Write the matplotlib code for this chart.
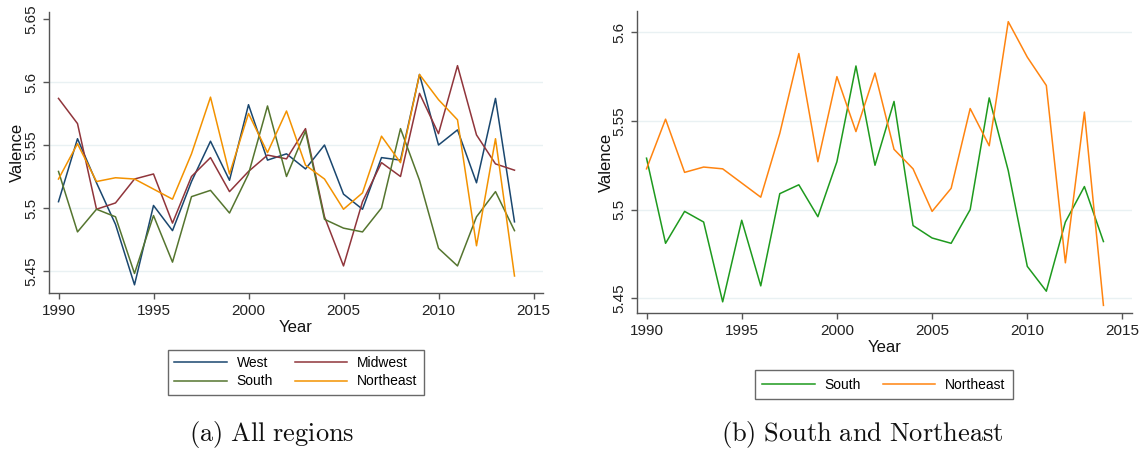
import matplotlib
matplotlib.use("Agg")
import matplotlib.pyplot as plt
import numpy as np

# Annual mean valence by census region
years = list(range(1990, 2015))
west = [5.505, 5.555, 5.520, 5.487, 5.439, 5.502, 5.482, 5.521, 5.553, 5.522,
        5.582, 5.538, 5.543, 5.531, 5.550, 5.511, 5.499, 5.540, 5.538, 5.606,
        5.550, 5.562, 5.520, 5.587, 5.489]
midwest = [5.587, 5.567, 5.499, 5.504, 5.523, 5.527, 5.488, 5.525, 5.540, 5.513,
           5.529, 5.542, 5.539, 5.563, 5.493, 5.454, 5.505, 5.536, 5.525, 5.591,
           5.559, 5.613, 5.558, 5.535, 5.530]
south = [5.529, 5.481, 5.499, 5.493, 5.448, 5.494, 5.457, 5.509, 5.514, 5.496,
         5.527, 5.581, 5.525, 5.561, 5.491, 5.484, 5.481, 5.500, 5.563, 5.522,
         5.468, 5.454, 5.493, 5.513, 5.482]
northeast = [5.523, 5.551, 5.521, 5.524, 5.523, 5.515, 5.507, 5.543, 5.588, 5.527,
             5.575, 5.544, 5.577, 5.534, 5.523, 5.499, 5.512, 5.557, 5.536, 5.606,
             5.586, 5.570, 5.470, 5.555, 5.446]

x_ticks = [1990, 1995, 2000, 2005, 2010, 2015]
y_ticks_a = [5.45, 5.5, 5.55, 5.6, 5.65]
y_ticks_b = [5.45, 5.5, 5.55, 5.6]
y_ticklabels_a = ["5.45", "5.5", "5.55", "5.6", "5.65"]
y_ticklabels_b = ["5.45", "5.5", "5.55", "5.6"]

plt.rcParams["font.family"] = ["Liberation Sans", "DejaVu Sans"]
plt.rcParams["mathtext.fontset"] = "cm"

fig = plt.figure(figsize=(11.43, 4.51), dpi=100)
W, H = 1143, 451


def px_axes(x0, y0, x1, y1):
    return fig.add_axes([x0 / W, 1 - y1 / H, (x1 - x0) / W, (y1 - y0) / H])


grid_col = "#e9f1f3"
spine_col = "#555555"


def style(ax, yticks, ylabels, grid_vals, ylabel_x):
    for s in ("top", "right"):
        ax.spines[s].set_visible(False)
    for s in ("left", "bottom"):
        ax.spines[s].set_color(spine_col)
        ax.spines[s].set_linewidth(1.0)
    ax.set_xlim(1989.5, 2015.5)
    ax.set_xticks(x_ticks)
    ax.set_xticklabels([str(t) for t in x_ticks])
    ax.set_yticks(yticks)
    ax.set_yticklabels(ylabels, rotation=90, va="center")
    ax.tick_params(axis="both", direction="out", length=4, width=1.0,
                   color=spine_col, labelsize=11, labelcolor="#222222")
    ax.tick_params(axis="x", pad=4)
    ax.tick_params(axis="y", pad=4)
    for g in grid_vals:
        ax.axhline(g, color=grid_col, lw=1.0, zorder=0)
    ax.set_xlabel("Year", fontsize=12, labelpad=1, color="#111111")
    ax.set_ylabel("Valence", fontsize=12, color="#111111")
    ax.yaxis.set_label_coords(ylabel_x, 0.5)


def boxed_legend(ax, order, anchor, **kw):
    handles, labels = ax.get_legend_handles_labels()
    lookup = dict(zip(labels, handles))
    leg = ax.legend([lookup[k] for k in order], order, loc="upper center",
                    bbox_to_anchor=anchor, bbox_transform=fig.transFigure,
                    ncol=2, fontsize=10, frameon=True, fancybox=False,
                    handlelength=3.75, handletextpad=0.72, **kw)
    leg.get_frame().set_edgecolor("#444444")
    leg.get_frame().set_linewidth(1.0)
    return leg


# Panel (a): all regions
ax1 = px_axes(49, 12, 543, 293)
ax1.plot(years, west, color="#1a476f", lw=1.1, label="West")
ax1.plot(years, midwest, color="#90353b", lw=1.1, label="Midwest")
ax1.plot(years, south, color="#55752f", lw=1.1, label="South")
ax1.plot(years, northeast, color="#f39200", lw=1.1, label="Northeast")
ax1.set_ylim(5.4325, 5.6556)
style(ax1, y_ticks_a, y_ticklabels_a, [5.45, 5.5, 5.55, 5.6],
      (25 - 49) / (543 - 49))
boxed_legend(ax1, ["West", "South", "Midwest", "Northeast"],
             (296 / W, 1 - 343 / H), columnspacing=1.6,
             borderpad=0.45, labelspacing=0.3)

# Panel (b): South and Northeast
ax2 = px_axes(637, 11, 1132, 313)
ax2.plot(years, south, color="#1e9a1e", lw=1.1, label="South")
ax2.plot(years, northeast, color="#ff8410", lw=1.1, label="Northeast")
ax2.set_ylim(5.4417, 5.612)
style(ax2, y_ticks_b, y_ticklabels_b, [5.45, 5.5, 5.55, 5.6],
      (614 - 637) / (1132 - 637))
boxed_legend(ax2, ["South", "Northeast"], (884 / W, 1 - 363 / H),
             columnspacing=1.6, borderpad=0.55)

# Sub-figure captions
fig.text(272 / W, 1 - 435 / H, r"$\mathrm{(a)\ All\ regions}$",
         ha="center", va="center", fontsize=19, color="#111111")
fig.text(862 / W, 1 - 435 / H, r"$\mathrm{(b)\ South\ and\ Northeast}$",
         ha="center", va="center", fontsize=19, color="#111111")

fig.savefig("out.png", dpi=100, facecolor="white")
